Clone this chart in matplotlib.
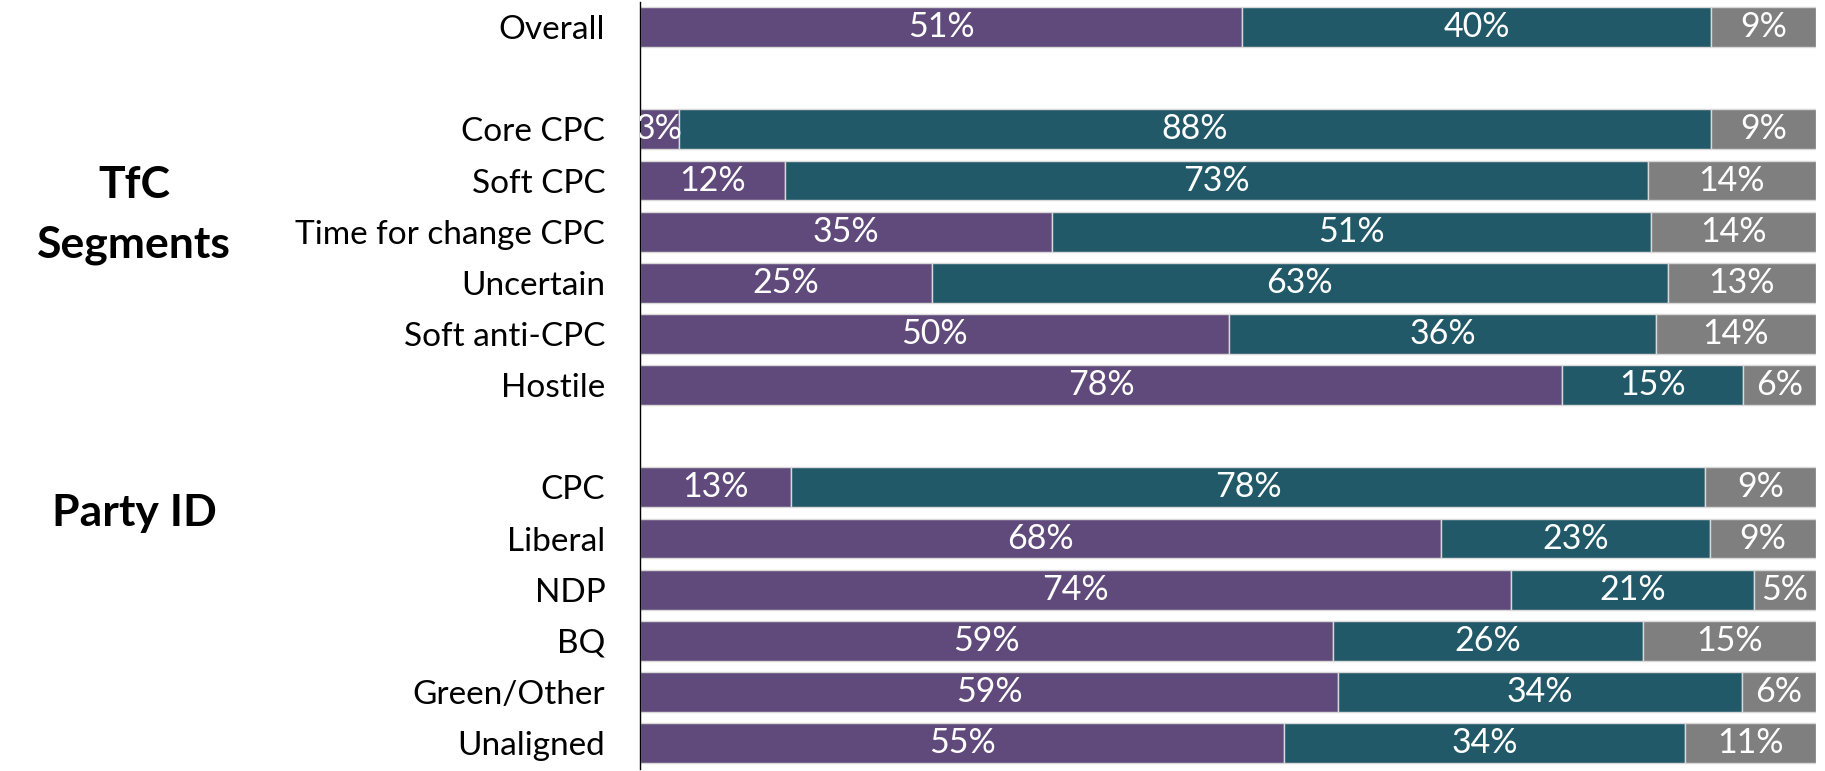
import matplotlib
matplotlib.use("Agg")
import matplotlib.pyplot as plt
import numpy as np

# rows (None = blank spacer row)
categories = ["Overall", None,
              "Core CPC", "Soft CPC", "Time for change CPC", "Uncertain",
              "Soft anti-CPC", "Hostile", None,
              "CPC", "Liberal", "NDP", "BQ", "Green/Other", "Unaligned"]

# shares (%)
purple = [51.2, None, 3.3, 12.3, 35.0, 24.8, 50.1, 78.4, None,
          12.8, 68.1, 74.1, 58.9, 59.4, 54.8]
teal   = [39.9, None, 87.8, 73.4, 51.0, 62.6, 36.3, 15.4, None,
          77.8, 22.9, 20.6, 26.4, 34.3, 34.1]
grey   = [8.9, None, 8.9, 14.3, 14.0, 12.6, 13.6, 6.2, None,
          9.4, 9.0, 5.3, 14.7, 6.3, 11.1]

groups = [("TfC\nSegments", 3.68), ("Party ID", 9.5)]

COLORS = ["#604a7b", "#215968", "#7f7f7f"]
FONT = "Lato"

fig = plt.figure(figsize=(18.25, 7.71), dpi=100)
ax = fig.add_axes([0.3507, 0.003, 0.6443, 0.995])

rows = [i for i, c in enumerate(categories) if c is not None]
left = np.zeros(len(rows))
for series, col in zip([purple, teal, grey], COLORS):
    vals = np.array([series[i] for i in rows])
    ax.barh(rows, vals, left=left, height=0.78, color=col,
            edgecolor="#d9d9d9", linewidth=1)
    for y, l, v in zip(rows, left, vals):
        ax.text(l + v / 2, y, f"{round(v)}%", ha="center", va="center",
                color="white", fontsize=24.5, family=FONT, clip_on=True)
    left += vals

ax.set_xlim(0, 100)
ax.set_ylim(14.5, -0.5)
ax.set_yticks(rows)
ax.set_yticklabels([categories[i] for i in rows], family=FONT, fontsize=24)
ax.tick_params(axis="y", length=0, pad=25)
ax.set_xticks([])
for s in ["top", "right", "bottom"]:
    ax.spines[s].set_visible(False)
ax.spines["left"].set_color("black")
ax.spines["left"].set_linewidth(1)

for text, y in groups:
    yy = ax.transData.transform((0, y))[1]
    yf = fig.transFigure.inverted().transform((0, yy))[1]
    fig.text(0.0734, yf, text, ha="center", va="center", fontsize=32,
             fontweight="bold", family=FONT, linespacing=1.6)

fig.savefig("out.png", dpi=100)
